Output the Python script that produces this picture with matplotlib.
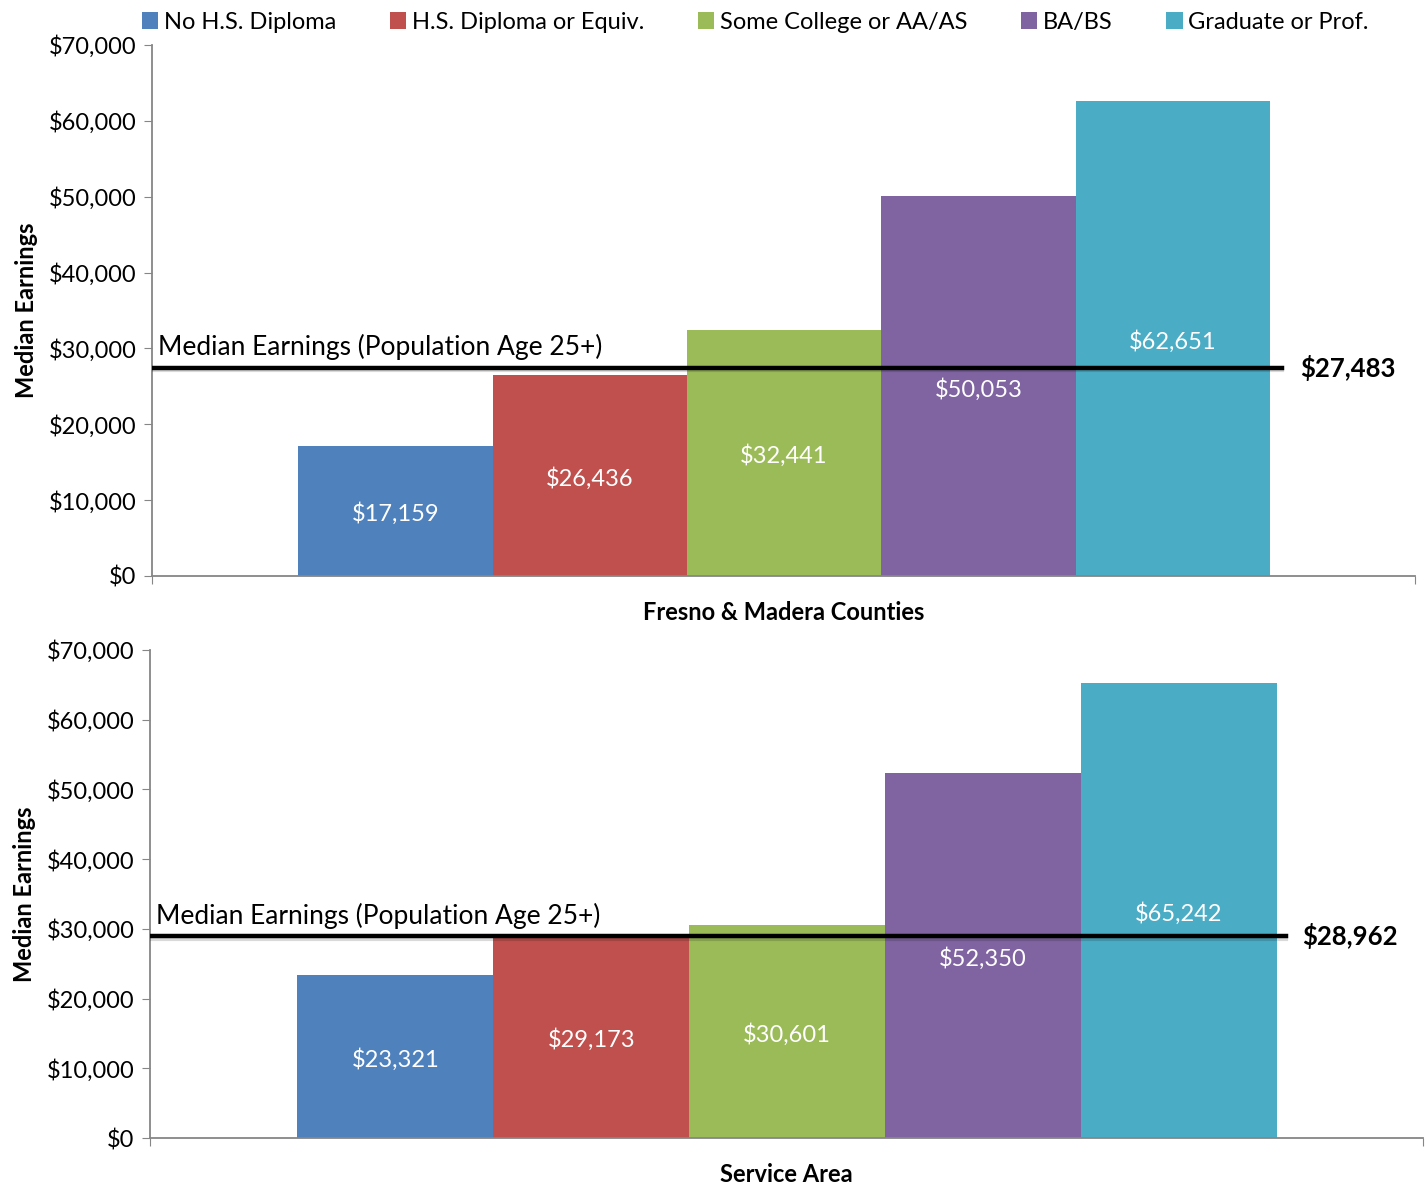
import matplotlib.pyplot as plt
from matplotlib.patches import Patch
from matplotlib.ticker import FuncFormatter, FixedLocator
import matplotlib.transforms as mtransforms

plt.rcParams['font.family'] = ['Lato', 'DejaVu Sans']

categories = ["No H.S. Diploma", "H.S. Diploma or Equiv.", "Some College or AA/AS",
              "BA/BS", "Graduate or Prof."]
colors = ["#4F81BD", "#C0504D", "#9BBB59", "#8064A2", "#4BACC6"]

fresno_values = [17159, 26436, 32441, 50053, 62651]
service_values = [23321, 29173, 30601, 52350, 65242]
fresno_median = 27483
service_median = 28962

panels = [
    ("Fresno & Madera Counties", fresno_values, fresno_median,
     [152/1427, 1 - 576/1185, (1415-152)/1427, (576-45)/1185], 0.895, 0.909),
    ("Service Area", service_values, service_median,
     [150/1427, 1 - 1138/1185, (1423-150)/1427, (1138-650)/1185], 0.892, 0.905),
]

fig = plt.figure(figsize=(14.27, 11.85), dpi=100)
gray = "#868686"

for title, vals, med, rect, line_end, lab_x in panels:
    ax = fig.add_axes(rect)
    xs = range(len(vals))
    ax.bar(xs, vals, width=1.0, color=colors, zorder=2)
    for x, v in zip(xs, vals):
        ax.text(x, v / 2 - 400, f"${v:,}", color="white", ha="center", va="center",
                fontsize=17, zorder=3)
    # shadow + median line
    ax.axhline(med - 350, xmin=0, xmax=line_end, color="#000000", alpha=0.15,
               lw=3, zorder=4)
    ax.axhline(med, xmin=0, xmax=line_end, color="black", lw=3.2, zorder=5)
    trans = mtransforms.blended_transform_factory(ax.transAxes, ax.transData)
    ax.text(0.005, med + 1000, "Median Earnings (Population Age 25+)",
            transform=trans, ha="left", va="bottom", fontsize=19, zorder=6)
    ax.text(lab_x, med, f"${med:,}", transform=trans, ha="left", va="center",
            fontsize=18.5, fontweight="bold")

    ax.set_xlim(-1.253, 5.247)
    ax.set_ylim(0, 70000)
    ax.yaxis.set_major_locator(FixedLocator(range(0, 70001, 10000)))
    ax.yaxis.set_major_formatter(FuncFormatter(lambda v, p: f"${int(v):,}"))
    ax.xaxis.set_major_locator(FixedLocator([-1.253, 5.247]))
    ax.set_xticklabels(["", ""])
    ax.tick_params(axis="both", direction="out", color=gray, length=6,
                   labelsize=17, pad=5)
    for s in ["top", "right"]:
        ax.spines[s].set_visible(False)
    for s in ["left", "bottom"]:
        ax.spines[s].set_color(gray)
        ax.spines[s].set_linewidth(1.3)
    ax.set_xlabel(title, fontsize=17, fontweight="bold", labelpad=7)
    ax.set_ylabel("Median Earnings", fontsize=17, fontweight="bold", labelpad=8)

handles = [Patch(facecolor=c, edgecolor="none") for c in colors]
fig.legend(handles, categories, loc="upper center", bbox_to_anchor=(0.5294, 1.008),
           ncol=5, frameon=False, fontsize=17, handlelength=0.7, handleheight=0.7,
           handletextpad=0.25, columnspacing=2.25)

fig.savefig("out.png", dpi=100)
